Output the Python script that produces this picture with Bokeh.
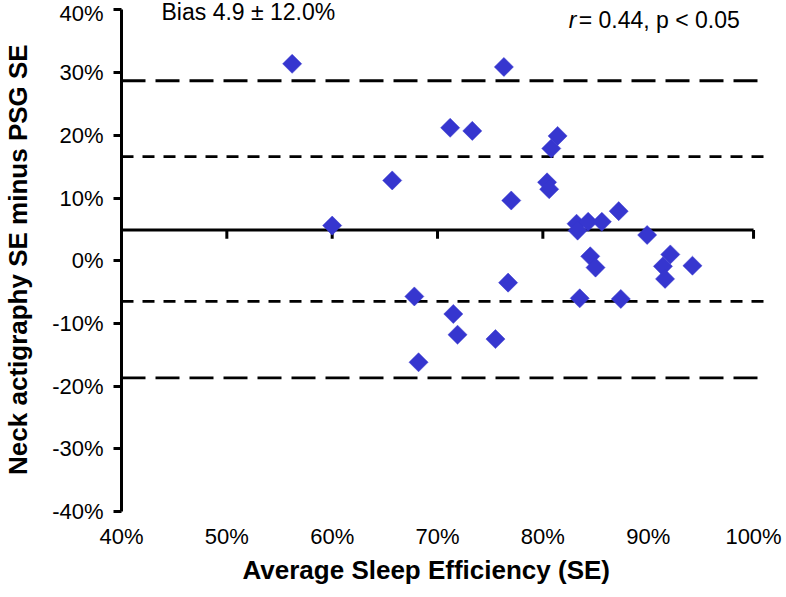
import numpy as np
from bokeh.plotting import figure
from bokeh.models import Range1d, FixedTicker, Label, Title
from bokeh.embed import file_html
from bokeh.resources import INLINE

# ---- data ----
avg_se = [56.2, 60.0, 65.7, 76.3, 71.2, 73.3, 77.0, 81.4, 80.8, 80.4, 80.6,
          87.2, 83.2, 84.3, 85.6, 83.3, 89.9, 84.5, 85.0, 92.1, 91.4, 91.6,
          94.2, 83.5, 87.4, 67.8, 71.5, 71.9, 75.5, 68.2, 76.7]
diff_se = [31.4, 5.6, 12.8, 30.9, 21.2, 20.7, 9.6, 19.9, 17.9, 12.5, 11.4,
           7.9, 5.9, 6.2, 6.2, 4.8, 4.1, 0.7, -1.1, 1.0, -0.9, -2.9,
           -0.8, -6.0, -6.1, -5.7, -8.5, -11.8, -12.5, -16.2, -3.5]
bias = 4.9
sd_lines = [16.6, -6.5]
loa_lines = [28.7, -18.7]
x_ticks = [40, 50, 60, 70, 80, 90, 100]
x_tick_labels = ["40%", "50%", "60%", "70%", "80%", "90%", "100%"]
y_ticks = [-40, -30, -20, -10, 0, 10, 20, 30, 40]
y_tick_labels = ["-40%", "-30%", "-20%", "-10%", "0%", "10%", "20%", "30%", "40%"]
x_title = "Average Sleep Efficiency (SE)"
y_title = "Neck actigraphy SE minus PSG  SE"
bias_text = "Bias 4.9 \u00b1 12.0%"
stat_r = "r"
stat_rest = "= 0.44, p < 0.05"

FONT = "Liberation Sans"

p = figure(frame_width=651, frame_height=511,
           x_range=Range1d(40, 101.8), y_range=Range1d(-40, 41.5),
           min_border_left=115, min_border_right=10, min_border_top=0,
           min_border_bottom=70,
           output_backend="svg", toolbar_location=None)
p.outline_line_color = None
p.xgrid.visible = False
p.ygrid.visible = False
p.background_fill_color = "white"
p.border_fill_color = "white"

# x axis (labels only, at bottom)
p.xaxis.ticker = FixedTicker(ticks=x_ticks)
p.xaxis.major_label_overrides = {t: l for t, l in zip(x_ticks, x_tick_labels)}
p.xaxis.axis_line_color = None
p.xaxis.major_tick_line_color = None
p.xaxis.major_tick_out = 0
p.xaxis.major_tick_in = 0
p.xaxis.minor_tick_line_color = None
p.xaxis.major_label_standoff = 12
p.xaxis.major_label_text_font = FONT
p.xaxis.major_label_text_font_size = "22px"
p.xaxis.major_label_text_color = "black"

# x title as a below-panel title, shifted slightly left like the reference
p.add_layout(Title(text=x_title, align="left", offset=121, standoff=2,
                   text_font=FONT, text_font_size="26px",
                   text_font_style="bold", text_color="black"), "below")

# y axis
p.yaxis.ticker = FixedTicker(ticks=y_ticks)
p.yaxis.major_label_overrides = {t: l for t, l in zip(y_ticks, y_tick_labels)}
p.yaxis.bounds = (y_ticks[0], y_ticks[-1])
p.yaxis.axis_line_color = "black"
p.yaxis.axis_line_width = 3
p.yaxis.major_tick_line_color = "black"
p.yaxis.major_tick_line_width = 3
p.yaxis.major_tick_out = 8
p.yaxis.major_tick_in = 0
p.yaxis.minor_tick_line_color = None
p.yaxis.major_label_standoff = 10
p.yaxis.major_label_text_font = FONT
p.yaxis.major_label_text_font_size = "22px"
p.yaxis.major_label_text_color = "black"
p.yaxis.axis_label = y_title
p.yaxis.axis_label_text_font = FONT
p.yaxis.axis_label_text_font_size = "26px"
p.yaxis.axis_label_text_font_style = "bold"
p.yaxis.axis_label_text_color = "black"
p.yaxis.axis_label_standoff = 16

# limit lines
n_loa = len(loa_lines)
p.segment(x0=[x_ticks[0]] * n_loa, x1=[101.0] * n_loa, y0=loa_lines, y1=loa_lines,
          line_color="black", line_width=2.8, line_dash="24 10")
n_sd = len(sd_lines)
p.segment(x0=[x_ticks[0]] * n_sd, x1=[101.5] * n_sd, y0=sd_lines, y1=sd_lines,
          line_color="black", line_width=2.8, line_dash="12 9")

# bias line acting as x-axis line with downward ticks
p.segment(x0=[x_ticks[0]], x1=[x_ticks[-1]], y0=[bias], y1=[bias],
          line_color="black", line_width=3)
tick_len = 1.4
tx = x_ticks[1:]
p.segment(x0=tx, x1=tx, y0=[bias] * len(tx), y1=[bias - tick_len] * len(tx),
          line_color="black", line_width=3)

# points
p.scatter(avg_se, diff_se, marker="square", size=13.5, angle=np.pi / 4,
          fill_color="#3636cf", line_color="#3636cf", line_width=0.5)

# annotations
p.add_layout(Label(x=43.8, y=39.6, text=bias_text, text_font=FONT,
                   text_font_size="23px", text_baseline="middle",
                   text_align="left", text_color="black"))
p.add_layout(Label(x=82.45, y=38.4, text=stat_r, text_font=FONT,
                   text_font_style="italic",
                   text_font_size="23px", text_baseline="middle",
                   text_align="left", text_color="black"))
p.add_layout(Label(x=83.4, y=38.4, text=stat_rest, text_font=FONT,
                   text_font_size="23px", text_baseline="middle",
                   text_align="left", text_color="black"))

open("out.html", "w").write(file_html(p, INLINE))
